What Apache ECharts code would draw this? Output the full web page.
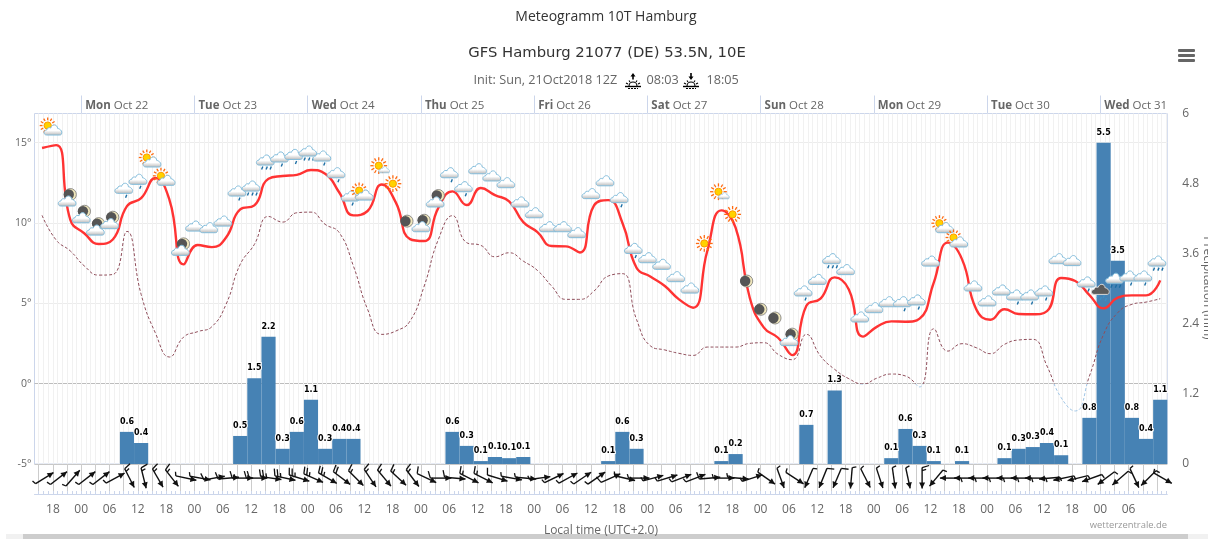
<!DOCTYPE html>
<html>
<head>
<meta charset="utf-8">
<title>Meteogramm 10T Hamburg</title>
<script src="https://cdn.jsdelivr.net/npm/echarts@6/dist/echarts.min.js"></script>
<style>
  html, body { margin: 0; padding: 0; background: #fff; overflow: hidden; }
  #meteogram { width: 1208px; height: 539px; }
</style>
</head>
<body>
<div id="meteogram"></div>
<script>
// one value every 3 hours, hours counted from Mon Oct 22 00:00 local time
var firstHour = -8.3;
var stepHours = 3;

var temperature = [14.67, 14.85, 10.2, 9.35, 8.7, 8.98, 11.05, 11.55, 12.8, 11.45,
    7.43, 8.63, 8.5, 9.1, 10.85, 11.1, 12.76, 12.93, 13.0, 13.3,
    13.07, 11.9, 10.48, 10.75, 12.4, 11.27, 9.0, 8.88, 10.95, 11.97,
    11.12, 12.18, 11.74, 11.35, 10.06, 9.44, 8.57, 8.55, 8.17, 11.1,
    11.43, 10.02, 7.22, 6.66, 6.08, 5.25, 4.73, 8.26, 10.79, 9.71,
    5.35, 3.49, 2.86, 1.78, 4.85, 5.3, 6.62, 5.87, 2.93, 3.55,
    3.88, 3.86, 4.05, 6.29, 8.78, 7.74, 4.63, 3.98, 4.63, 4.34,
    4.32, 4.52, 6.58, 6.39, 5.52, 4.69, 5.35, 5.5, 5.5, 6.43];

var dewPoint = [10.48, 8.94, 8.26, 7.32, 6.76, 6.8, 9.48, 5.56, 3.17, 1.66,
    2.9, 3.24, 3.55, 4.94, 7.43, 8.67, 10.41, 10.06, 10.64, 10.68,
    9.92, 9.4, 7.32, 4.63, 3.07, 3.28, 3.9, 6.08, 8.98, 10.46,
    8.78, 8.61, 7.9, 8.15, 7.63, 7.05, 6.08, 5.25, 5.25, 5.77,
    6.7, 6.85, 4.0, 2.34, 2.1, 1.89, 1.76, 2.28, 2.28, 2.28,
    2.51, 2.55, 1.83, 1.49, 3.07, 1.72, 0.89, 0.31, -0.02, 0.35,
    0.6, 0.48, -0.2, 3.42, 2.03, 2.49, 2.24, 1.87, 2.45, 2.72,
    2.76, 1.1, -0.87, -1.7, 0.48, 3.07, 4.42, 4.94, 5.08, 5.29];

var precipitation = [0, 0, 0, 0, 0, 0, 0.55, 0.36, 0, 0,
    0, 0, 0, 0, 0.48, 1.47, 2.18, 0.26, 0.55, 1.1,
    0.26, 0.43, 0.43, 0, 0, 0, 0, 0, 0, 0.55,
    0.31, 0.05, 0.12, 0.1, 0.12, 0, 0, 0, 0, 0,
    0.05, 0.55, 0.26, 0, 0, 0, 0, 0, 0.05, 0.17,
    0, 0, 0, 0, 0.67, 0, 1.26, 0, 0, 0,
    0.1, 0.6, 0.31, 0.05, 0, 0.05, 0, 0, 0.1, 0.26,
    0.29, 0.36, 0.15, 0, 0.79, 5.5, 3.48, 0.79, 0.43, 1.1];

// where the wind arrow points (compass degrees) and how many half barbs it carries
var windDirection = [58, 52, 41, 52, 52, 62, 153, 166, 150, 142,
    102, 100, 80, 85, 90, 90, 98, 102, 107, 114,
    120, 127, 135, 146, 140, 133, 143, 115, 90, 95,
    117, 117, 107, 100, 95, 82, 64, 61, 56, 55,
    66, 103, 90, 75, 73, 69, 69, 85, 90, 95,
    72, 125, 160, 123, 203, 202, 203, 185, 153, 162,
    172, 168, 180, 220, 270, 270, 270, 270, 270, 270,
    270, 265, 258, 256, 250, 233, 229, 155, 225, 120];

var windBarbs = [1, 1, 1, 1, 1, 1, 3, 3, 3, 3,
    1, 1, 2, 2, 3, 4, 5, 5, 5, 5,
    5, 4, 3, 3, 3, 3, 3, 2, 2, 2,
    3, 3, 2, 1, 1, 1, 1, 1, 1, 1,
    2, 1, 1, 1, 1, 1, 1, 2, 1, 1,
    1, 1, 1, 1, 1, 2, 2, 1, 1, 1,
    1, 1, 3, 1, 1, 1, 1, 1, 1, 1,
    1, 1, 1, 1, 1, 1, 1, 1, 1, 1];

// weather symbols start at the second time step
var iconKinds = ['sunCloud', 'moonCloud', 'moonCloud', 'moonCloud', 'moonCloud', 'rain', 'rain', 'sunCloud', 'sunCloud',
    'moonCloud', 'cloud', 'cloud', 'cloud', 'rain', 'rainMore', 'rainMore', 'rain', 'rain', 'rainMore',
    'rain', 'rain', 'rain', 'sunCloud', 'sunSmallCloud', 'sun', 'moon', 'moonCloud', 'moonCloud', 'rain',
    'rain', 'cloud', 'cloud', 'cloud', 'cloud', 'cloud', 'cloud', 'cloud', 'cloud', 'cloud',
    'cloud', 'rain', 'rain', 'cloud', 'cloud', 'cloud', 'cloud', 'sun', 'sunSmallCloud', 'sun',
    'moon', 'moon', 'moon', 'moonCloud', 'rain', 'cloud', 'rainMore', 'cloud', 'cloud', 'cloud',
    'cloud', 'rain', 'rain', 'cloud', 'sunCloud', 'sunCloud', 'cloud', 'cloud', 'cloud', 'rain',
    'rain', 'rain', 'cloud', 'cloud', 'rain', 'darkSnow', 'rainMore', 'rain', 'rain', 'rainMore'];

var iconLevels = [15.79, 11.37, 10.33, 9.56, 9.96, 12.16, 12.72, 13.8, 12.66,
    8.3, 9.81, 9.71, 10.12, 11.99, 12.3, 13.92, 14.11, 14.27, 14.48,
    14.17, 13.13, 11.68, 11.74, 13.57, 12.45, 10.12, 9.77, 11.31, 13.13,
    12.26, 13.38, 12.93, 12.51, 11.31, 10.64, 9.77, 9.77, 9.4, 11.83,
    12.63, 11.58, 8.42, 7.84, 7.43, 6.66, 5.95, 8.73, 11.95, 10.54,
    6.39, 4.63, 4.09, 2.68, 5.77, 6.49, 7.78, 7.1, 4.15, 4.73,
    5.1, 5.1, 5.21, 7.63, 9.71, 8.82, 6.08, 5.15, 5.83, 5.52,
    5.52, 5.77, 7.78, 7.66, 6.33, 5.87, 6.56, 6.7, 6.7, 7.63];

var dayTicks = [0, 24, 48, 72, 96, 120, 144, 168, 192, 216];
var dayNames = ['Mon', 'Tue', 'Wed', 'Thu', 'Fri', 'Sat', 'Sun', 'Mon', 'Tue', 'Wed'];
var dayDates = ['Oct 22', 'Oct 23', 'Oct 24', 'Oct 25', 'Oct 26', 'Oct 27', 'Oct 28', 'Oct 29', 'Oct 30', 'Oct 31'];
var temperatureTicks = [-5, 0, 5, 10, 15];
var precipitationTicks = [0, 1.2, 2.4, 3.6, 4.8, 6];

var axisMin = -9.9;
var axisMax = 230.2;

function hoursEvery(step) {
    var list = [];
    for (var h = Math.ceil(axisMin / step) * step; h <= axisMax; h += step) {
        list.push(h);
    }
    return list;
}

var hourLabelTicks = hoursEvery(6).filter(function (h) { return h <= 222; });
var temperatureData = temperature.map(function (v, i) { return [firstHour + i * stepHours, v]; });
var dewPointData = dewPoint.map(function (v, i) { return [firstHour + i * stepHours, v]; });
var precipitationData = precipitation.map(function (v, i) { return [firstHour + i * stepHours, v]; });
var windData = windDirection.map(function (d, i) { return [firstHour + i * stepHours, 0.53, d, windBarbs[i]]; });
var iconData = iconLevels.map(function (v, i) { return [firstHour + (i + 1) * stepHours, v, i]; });

var FONT = '"Open Sans", sans-serif';
var CLOUD = 'M-6.5,5 C-10,5 -10,0 -6.5,0 C-6.5,-2 -3.5,-3 -2.5,-2 C-1,-6.5 4,-6 4.5,-1.5 C5,-2 9.5,0.5 8.5,3 C8.5,4.5 7.5,5 6.5,5 Z';

function cloudShape(x, y, scale, dark) {
    return {
        type: 'path',
        x: x,
        y: y,
        scaleX: scale,
        scaleY: scale,
        shape: { pathData: CLOUD },
        style: {
            fill: dark ? '#5b5b5b' : {
                type: 'linear', x: 0, y: 0, x2: 0, y2: 1,
                colorStops: [{ offset: 0, color: '#ffffff' }, { offset: 0.55, color: '#ffffff' }, { offset: 1, color: '#b4b4b4' }]
            },
            stroke: dark ? '#d8d8d8' : '#84bddb',
            lineWidth: 1
        }
    };
}

function sunShape(x, y, rays) {
    var parts = [];
    for (var i = 0; i < 12; i++) {
        var a = i * Math.PI / 6;
        parts.push({
            type: 'line',
            shape: {
                x1: x + Math.cos(a) * 5.2, y1: y + Math.sin(a) * 5.2,
                x2: x + Math.cos(a) * rays, y2: y + Math.sin(a) * rays
            },
            style: { stroke: '#ff6a10', lineWidth: 1.3 }
        });
    }
    parts.push({
        type: 'circle',
        shape: { cx: x, cy: y, r: 3.6 },
        style: { fill: '#ffd200', stroke: '#ff9a00', lineWidth: 1 }
    });
    return parts;
}

function moonShape(x, y) {
    return [{
        type: 'circle',
        shape: { cx: x, cy: y, r: 6 },
        style: { fill: '#efe6bb', stroke: '#777', lineWidth: 0.8 }
    }, {
        type: 'circle',
        shape: { cx: x - 1.6, cy: y, r: 5.2 },
        style: { fill: '#555555' }
    }];
}

function dropShapes(points, color) {
    return points.map(function (p) {
        return {
            type: 'line',
            shape: { x1: p[0] + 0.8, y1: p[1] - 1.5, x2: p[0] - 0.4, y2: p[1] + 1.5 },
            style: { stroke: color || '#1c6ea4', lineWidth: 1.4 }
        };
    });
}

function iconParts(kind, x, y) {
    if (kind === 'cloud') {
        return [cloudShape(x, y, 1)];
    }
    if (kind === 'rain') {
        return dropShapes([[x + 2, y + 8]]).concat([cloudShape(x, y, 1)]);
    }
    if (kind === 'rainMore') {
        return dropShapes([[x - 3.5, y + 8], [x + 1, y + 8], [x + 5, y + 8]]).concat([cloudShape(x, y, 1)]);
    }
    if (kind === 'sunCloud') {
        return sunShape(x - 5.5, y - 4.5, 8).concat([cloudShape(x, y, 1)]);
    }
    if (kind === 'sunSmallCloud') {
        return sunShape(x, y, 8.4).concat([cloudShape(x + 5.5, y + 4, 0.62)]);
    }
    if (kind === 'sun') {
        return sunShape(x, y, 8.4);
    }
    if (kind === 'moon') {
        return moonShape(x, y);
    }
    if (kind === 'moonCloud') {
        return moonShape(x + 3, y - 6.5).concat([cloudShape(x, y, 1)]);
    }
    // dark cloud with wet snow below
    return dropShapes([[x - 3, y + 7], [x, y + 9], [x + 3, y + 7], [x + 5, y + 10]], '#3f8fc4')
        .concat([cloudShape(x, y, 1, true)]);
}

function renderIcon(params, api) {
    var p = api.coord([api.value(0), api.value(1)]);
    return { type: 'group', children: iconParts(iconKinds[api.value(2)], p[0] - 3, p[1]) };
}

function renderWind(params, api) {
    var p = api.coord([api.value(0), api.value(1)]);
    var a = api.value(2) * Math.PI / 180;
    var half = api.value(3);
    var sx = Math.sin(a), sy = -Math.cos(a);
    var cx = p[0] + 2.5, cy = p[1];
    var len = 10.5;
    var hx = cx + sx * len, hy = cy + sy * len;
    var tx = cx - sx * len, ty = cy - sy * len;
    var children = [{
        type: 'line',
        shape: { x1: tx, y1: ty, x2: hx, y2: hy },
        style: { stroke: '#111', lineWidth: 1.4 }
    }, {
        type: 'polygon',
        shape: {
            points: [
                [hx, hy],
                [hx - sx * 6 + sy * 3, hy - sy * 6 - sx * 3],
                [hx - sx * 6 - sy * 3, hy - sy * 6 + sx * 3]
            ]
        },
        style: { fill: '#111' }
    }];
    var pos = 0;
    var barb = function (size) {
        var bx = tx + sx * pos, by = ty + sy * pos;
        children.push({
            type: 'line',
            shape: { x1: bx, y1: by, x2: bx + sy * size - sx * size * 0.3, y2: by - sx * size - sy * size * 0.3 },
            style: { stroke: '#111', lineWidth: 1.3 }
        });
        pos += 3;
    };
    for (var i = 0; i < Math.floor(half / 2); i++) {
        barb(7);
    }
    if (half % 2) {
        barb(4);
    }
    return { type: 'group', children: children };
}

function sunriseIcon(x, y, up) {
    var arrow = up
        ? [[0, -7], [-2.5, -3.5], [-0.8, -3.5], [-0.8, -0.5], [0.8, -0.5], [0.8, -3.5], [2.5, -3.5]]
        : [[0, 0], [-2.5, -3.5], [-0.8, -3.5], [-0.8, -7], [0.8, -7], [0.8, -3.5], [2.5, -3.5]];
    var stroke = { stroke: '#000', lineWidth: 1.1 };
    return {
        type: 'group',
        x: x,
        y: y,
        silent: true,
        children: [
            { type: 'polygon', shape: { points: arrow }, style: { fill: '#000' } },
            { type: 'arc', shape: { cx: 0, cy: 6, r: 4, startAngle: Math.PI, endAngle: 2 * Math.PI }, style: { fill: 'none', stroke: '#000', lineWidth: 1.1 } },
            { type: 'line', shape: { x1: -7, y1: 3, x2: -5, y2: 4 }, style: stroke },
            { type: 'line', shape: { x1: 7, y1: 3, x2: 5, y2: 4 }, style: stroke },
            { type: 'line', shape: { x1: -4, y1: 0.5, x2: -3, y2: 2 }, style: stroke },
            { type: 'line', shape: { x1: 4, y1: 0.5, x2: 3, y2: 2 }, style: stroke },
            { type: 'line', shape: { x1: -8, y1: 6.5, x2: 8, y2: 6.5 }, style: { stroke: '#000', lineWidth: 1.4 } },
            { type: 'line', shape: { x1: -5, y1: 8.5, x2: 5, y2: 8.5 }, style: { stroke: '#000', lineWidth: 1, lineDash: [2, 1] } }
        ]
    };
}

function greyText(text, x, y) {
    return {
        type: 'text',
        x: x,
        y: y,
        silent: true,
        style: { text: text, fill: '#666', font: '12.7px ' + FONT, verticalAlign: 'middle' }
    };
}

var chart = echarts.init(document.getElementById('meteogram'), null, { renderer: 'canvas' });

var option = {
    animation: false,
    title: [
        { text: 'Meteogramm 10T Hamburg', left: 601, top: 5, textAlign: 'center', textStyle: { fontFamily: FONT, fontSize: 14, fontWeight: 'normal', color: '#333' } },
        { text: 'GFS Hamburg 21077 (DE) 53.5N, 10E', left: 602, top: 40.5, textAlign: 'center', textStyle: { fontFamily: 'DejaVu Sans', fontSize: 14.8, fontWeight: 'normal', color: '#333' } }
    ],
    grid: [
        { left: 34.5, right: 40.7, top: 113.5, height: 350.5, show: true, borderColor: '#ccd6eb', borderWidth: 1, outerBoundsMode: 'none' },
        { left: 34.5, right: 40.7, top: 464, height: 30, outerBoundsMode: 'none' }
    ],
    xAxis: [
        {
            // day labels on top, day lines through the main panel
            gridIndex: 0, type: 'value', position: 'top', min: axisMin, max: axisMax,
            axisLine: { show: false, onZero: false },
            axisTick: { show: true, length: 18, customValues: dayTicks, lineStyle: { color: '#ccd6eb' } },
            splitLine: { show: true, lineStyle: { color: '#e2e2e2', width: 1 } },
            axisLabel: {
                customValues: dayTicks,
                align: 'left',
                margin: 2,
                padding: [0, 0, 0, 4],
                color: '#666',
                fontFamily: FONT,
                fontSize: 11.5,
                formatter: function (v) {
                    var i = dayTicks.indexOf(v);
                    return '{b|' + dayNames[i] + '} ' + dayDates[i];
                },
                rich: { b: { fontWeight: 'bold', color: '#666', fontFamily: FONT, fontSize: 11.5 } }
            }
        },
        {
            // hourly lines of the main panel
            gridIndex: 0, type: 'value', position: 'bottom', min: axisMin, max: axisMax,
            axisLine: { show: false, onZero: false },
            axisTick: { show: false, customValues: hoursEvery(1) },
            axisLabel: { show: false },
            splitLine: { show: true, lineStyle: { color: '#f1f1f1', width: 1 } }
        },
        {
            gridIndex: 1, type: 'value', position: 'bottom', min: axisMin, max: axisMax,
            name: 'Local time (UTC+2.0)',
            nameLocation: 'middle',
            nameGap: 31,
            nameTextStyle: { color: '#666', fontFamily: FONT, fontSize: 12 },
            axisLine: { show: true, onZero: false, lineStyle: { color: '#ccd6eb' } },
            axisTick: { show: true, inside: true, length: 3, customValues: hoursEvery(1), lineStyle: { color: '#ccd6eb' } },
            splitLine: { show: false },
            axisLabel: {
                customValues: hourLabelTicks,
                color: '#666',
                fontFamily: FONT,
                fontSize: 12,
                margin: 10,
                formatter: function (v) {
                    var h = ((v % 24) + 24) % 24;
                    return (h < 10 ? '0' : '') + h;
                }
            }
        },
        {
            // 3-hourly lines behind the wind arrows
            gridIndex: 1, type: 'value', position: 'top', min: axisMin, max: axisMax,
            axisLine: { show: false, onZero: false },
            axisTick: { show: false, customValues: hoursEvery(3) },
            axisLabel: { show: false },
            splitLine: { show: true, lineStyle: { color: '#cccccc', width: 1 } }
        }
    ],
    yAxis: [
        {
            gridIndex: 0, type: 'value', min: -5, max: 16.82,
            axisLine: { show: false },
            axisTick: { show: false, customValues: temperatureTicks },
            splitLine: { show: true, lineStyle: { color: ['#c8c8c8', '#bdbdbd', '#ececec', '#ececec', '#ececec'], width: 1 } },
            axisLabel: {
                customValues: temperatureTicks,
                color: '#666',
                fontFamily: FONT,
                fontSize: 10.5,
                margin: 3,
                formatter: function (v) { return v + '°'; }
            }
        },
        {
            gridIndex: 0, type: 'value', position: 'right', min: 0, max: 6,
            axisLine: { show: false },
            axisTick: { show: false, customValues: precipitationTicks },
            splitLine: { show: false },
            axisLabel: { customValues: precipitationTicks, color: '#666', fontFamily: FONT, fontSize: 12, margin: 15 }
        },
        {
            gridIndex: 1, type: 'value', min: 0, max: 1, show: false
        }
    ],
    visualMap: {
        show: false,
        type: 'piecewise',
        seriesIndex: 2,
        dimension: 1,
        pieces: [{ min: -30, max: 0, color: '#9fc5e6' }, { min: 0, max: 30, color: '#8f4d5a' }]
    },
    series: [
        {
            name: 'Precipitation',
            type: 'bar',
            xAxisIndex: 1,
            yAxisIndex: 1,
            barWidth: '100%',
            barGap: 0,
            itemStyle: { color: '#4682b4' },
            label: {
                show: true,
                position: 'top',
                distance: 6,
                color: '#000',
                fontFamily: 'DejaVu Sans',
                fontSize: 8,
                fontWeight: 'bold',
                textBorderColor: '#fff',
                textBorderWidth: 2,
                formatter: function (p) { return p.value[1] > 0 ? p.value[1].toFixed(1) : ''; }
            },
            z: 2,
            data: precipitationData
        },
        {
            name: 'Temperature',
            type: 'line',
            xAxisIndex: 1,
            yAxisIndex: 0,
            smooth: 0.5,
            showSymbol: false,
            lineStyle: { color: '#ff3333', width: 2.4 },
            z: 4,
            data: temperatureData
        },
        {
            name: 'Dew point',
            type: 'line',
            xAxisIndex: 1,
            yAxisIndex: 0,
            smooth: 0.5,
            showSymbol: false,
            lineStyle: { width: 1, type: [3, 2] },
            z: 3,
            data: dewPointData
        },
        {
            name: 'Weather',
            type: 'custom',
            xAxisIndex: 1,
            yAxisIndex: 0,
            renderItem: renderIcon,
            clip: false,
            silent: true,
            z: 5,
            data: iconData
        },
        {
            name: 'Wind',
            type: 'custom',
            xAxisIndex: 3,
            yAxisIndex: 2,
            renderItem: renderWind,
            clip: false,
            silent: true,
            z: 5,
            data: windData
        }
    ],
    graphic: {
        elements: [
            greyText('Init: Sun, 21Oct2018 12Z', 473.5, 80.5),
            sunriseIcon(633, 80, true),
            greyText('08:03', 646.5, 80.5),
            sunriseIcon(691, 80, false),
            greyText('18:05', 706.5, 80.5),
            // axis title of the rain scale, runs off the right edge like the original
            {
                type: 'text', silent: true, x: 1207, y: 288, rotation: -Math.PI / 2,
                style: { text: 'Precipitation (mm)', fill: '#666', font: '12px ' + FONT, align: 'center', verticalAlign: 'middle' }
            },
            // export menu button
            { type: 'rect', silent: true, shape: { x: 1178, y: 49, width: 17, height: 3, r: 1 }, style: { fill: '#666' } },
            { type: 'rect', silent: true, shape: { x: 1178, y: 54, width: 17, height: 3, r: 1 }, style: { fill: '#666' } },
            { type: 'rect', silent: true, shape: { x: 1178, y: 59, width: 17, height: 3, r: 1 }, style: { fill: '#666' } },
            {
                type: 'text', silent: true, x: 1167, y: 525.5,
                style: { text: 'wetterzentrale.de', fill: '#999', font: '9.4px ' + FONT, align: 'right', verticalAlign: 'middle' }
            },
            // browser scrollbar cut off by the bottom edge
            { type: 'rect', silent: true, shape: { x: 6, y: 534, width: 17, height: 5 }, style: { fill: '#f1f1f1' } },
            { type: 'rect', silent: true, shape: { x: 23, y: 534, width: 1165, height: 5 }, style: { fill: '#cdcdcd' } },
            { type: 'rect', silent: true, shape: { x: 1188, y: 534, width: 20, height: 5 }, style: { fill: '#f1f1f1' } }
        ]
    }
};

option && chart.setOption(option);
</script>
</body>
</html>
